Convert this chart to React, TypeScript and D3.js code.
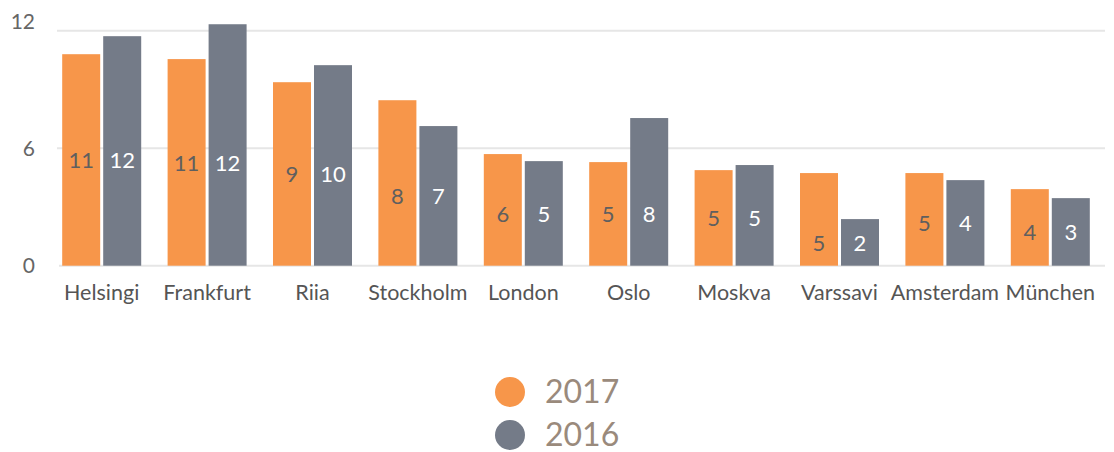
import React from 'react';
import * as d3 from 'd3';

const width = 1114;
const height = 452;

const cities = ['Helsingi', 'Frankfurt', 'Riia', 'Stockholm', 'London', 'Oslo', 'Moskva', 'Varssavi', 'Amsterdam', 'München'];
const values2017 = [10.8, 10.55, 9.37, 8.45, 5.7, 5.29, 4.88, 4.73, 4.73, 3.91];
const values2016 = [11.72, 12.33, 10.24, 7.13, 5.34, 7.54, 5.14, 2.38, 4.37, 3.45];
const yTicks = [0, 6, 12];
const seriesNames = ['2017', '2016'];

const orange = '#f7964a';
const slate = '#747b88';
const gridColor = '#e6e6e6';
const font = 'Lato, "Open Sans", sans-serif';

export default function App() {
  const x = d3.scaleBand<string>().domain(cities).range([49, 1103]).padding(0);
  const y = d3.scaleLinear().domain([0, 12]).range([265.7, 30.7]);
  const barW = 38;
  const gap = 3;

  return (
    <svg
      width={width}
      height={height}
      style={{ position: 'absolute', left: 0, top: 0, background: '#fff' }}
      fontFamily={font}
    >
      {/* grid lines */}
      {yTicks.map((t) => (
        <line
          key={t}
          x1={t === 0 ? 59 : 57}
          x2={1105}
          y1={y(t)}
          y2={y(t)}
          stroke={gridColor}
          strokeWidth={2}
        />
      ))}
      {/* y tick labels */}
      {yTicks.map((t) => (
        <text
          key={t}
          x={35}
          y={t === 12 ? y(t) - 7 : y(t) + 2}
          textAnchor="end"
          dominantBaseline="middle"
          fontSize={21}
          fill="#666"
        >
          {t}
        </text>
      ))}
      {/* bars */}
      {cities.map((c, i) => {
        const cx = (x(c) ?? 0) + x.bandwidth() / 2;
        const a = values2017[i];
        const b = values2016[i];
        const labelY = Math.max(150, y(Math.min(a, b) / 2));
        return (
          <g key={c}>
            <rect x={cx - gap / 2 - barW} y={y(a)} width={barW} height={y(0) - y(a)} fill={orange} />
            <rect x={cx + gap / 2} y={y(b)} width={barW} height={y(0) - y(b)} fill={slate} />
            <text
              x={cx - gap / 2 - barW / 2}
              y={labelY}
              textAnchor="middle"
              dominantBaseline="central"
              fontSize={22}
              fill="#5f5f5f"
            >
              {Math.round(a)}
            </text>
            <text
              x={cx + gap / 2 + barW / 2}
              y={labelY}
              textAnchor="middle"
              dominantBaseline="central"
              fontSize={22}
              fill="#fff"
            >
              {Math.round(b)}
            </text>
            <text
              x={cx}
              y={292}
              textAnchor="middle"
              dominantBaseline="central"
              fontSize={21.5}
              fill="#555"
            >
              {c}
            </text>
          </g>
        );
      })}
      {/* legend */}
      {seriesNames.map((s, i) => (
        <g key={s} transform={`translate(510, ${392 + i * 43})`}>
          <circle r={15} fill={i === 0 ? orange : slate} />
          <text x={35} y={-2} dominantBaseline="central" fontSize={32} fill="#9a8a7c">
            {s}
          </text>
        </g>
      ))}
    </svg>
  );
}
